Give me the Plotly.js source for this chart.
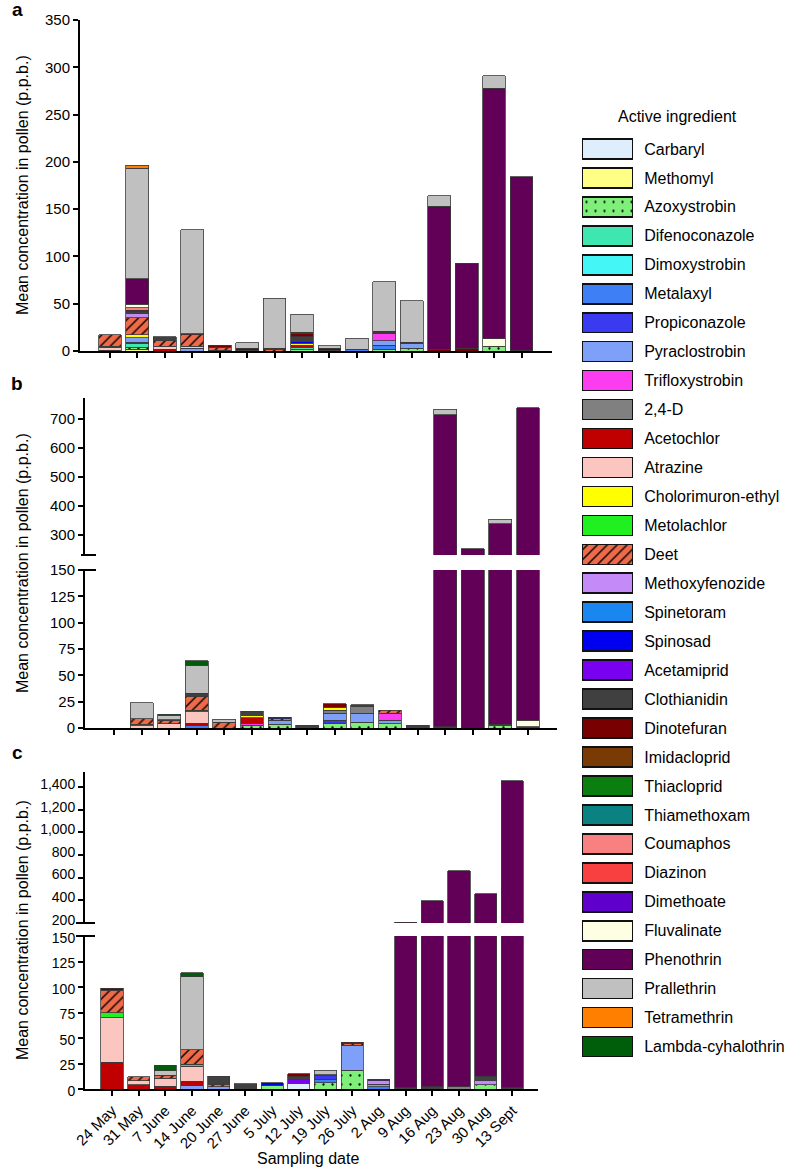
<!DOCTYPE html>
<html lang="en">
<head>
<meta charset="UTF-8">
<title>Active ingredients in pollen</title>
<script src="https://cdn.plot.ly/plotly-3.0.0.min.js" charset="utf-8"></script>
<style>
  body { margin: 0; background: #fff; }
  #chart { width: 788px; height: 1170px; }
</style>
</head>
<body>
<div id="chart"></div>
<script>
// Sampling dates (x categories)
const dates = ['24 May', '31 May', '7 June', '14 June', '20 June', '27 June', '5 July', '12 July',
               '19 July', '26 July', '2 Aug', '9 Aug', '16 Aug', '23 Aug', '30 Aug', '13 Sept'];

// Legend order = stacking order (bottom to top)
const ingredients = ['Carbaryl', 'Methomyl', 'Azoxystrobin', 'Difenoconazole', 'Dimoxystrobin', 'Metalaxyl',
  'Propiconazole', 'Pyraclostrobin', 'Trifloxystrobin', '2,4-D', 'Acetochlor', 'Atrazine',
  'Cholorimuron-ethyl', 'Metolachlor', 'Deet', 'Methoxyfenozide', 'Spinetoram', 'Spinosad',
  'Acetamiprid', 'Clothianidin', 'Dinotefuran', 'Imidacloprid', 'Thiacloprid', 'Thiamethoxam',
  'Coumaphos', 'Diazinon', 'Dimethoate', 'Fluvalinate', 'Phenothrin', 'Prallethrin',
  'Tetramethrin', 'Lambda-cyhalothrin'];

const colors = ['#dfeefc', '#ffff86', '#7ef07a', '#3ee6b0', '#44f6f6', '#3f7ff5',
  '#3a3af0', '#7fa0f8', '#fc3cf0', '#808080', '#c00000', '#fcc6c0',
  '#ffff00', '#20f020', '#ee6a48', '#c48af8', '#1a86f0', '#0000f0',
  '#7a00f0', '#404040', '#780000', '#7a3a06', '#0a7f10', '#0a8282',
  '#f88080', '#f84040', '#6000cc', '#fefee2', '#620058', '#c0c0c0',
  '#ff8000', '#005e0a'];

// Panel a: pollen, values in p.p.b. (one segment per date)
const aMethomyl        = [0, 2, 0, 0, 0, 0, 0, 0, 0, 0, 0, 0, 0, 0, 0, 0];
const aAzoxystrobin    = [0, 2, 0, 0, 0, 0, 0, 2, 0, 0, 2, 3, 0, 0, 5, 0];
const aDifenoconazole  = [0, 4, 0, 0, 0, 0, 0, 2, 0, 0, 0, 0, 0, 0, 0, 0];
const aMetalaxyl       = [0, 1, 0, 0, 1, 0, 0, 0, 0, 2, 4, 0, 0, 0, 0, 0];
const aPyraclostrobin  = [0, 5, 0, 3, 0, 0, 0, 0, 0, 0, 5, 5, 0, 0, 0, 0];
const aTrifloxystrobin = [0, 0, 0, 0, 0, 0, 0, 0, 0, 0, 8, 0, 0, 0, 0, 0];
const aAcetochlor      = [1, 0, 2, 0, 0, 0, 0, 2, 0, 0, 0, 0, 0, 0, 0, 0];
const aAtrazine        = [3, 0, 3, 2, 0, 0, 0, 0, 0, 0, 0, 0, 0, 0, 0, 0];
const aCholorimuron    = [0, 3, 0, 0, 0, 0, 0, 2, 0, 0, 0, 0, 0, 0, 0, 0];
const aMetolachlor     = [1, 0, 0, 0, 0, 0, 0, 0, 0, 0, 0, 0, 0, 0, 0, 0];
const aDeet            = [12, 18, 6, 12, 3, 1, 2, 0, 1, 0, 1, 0, 0, 0, 0, 0];
const aMethoxyfenozide = [0, 5, 0, 0, 0, 0, 0, 0, 0, 0, 0, 0, 0, 0, 0, 0];
const aSpinosad        = [0, 0, 0, 0, 0, 0, 0, 2, 0, 0, 0, 0, 0, 0, 0, 0];
const aClothianidin    = [0, 2, 4, 0, 0, 0, 0, 5, 0, 0, 0, 0, 0, 0, 0, 1];
const aDinotefuran     = [0, 1, 0, 1, 2, 2, 1, 3, 2, 0, 1, 1, 1.5, 3, 0, 0];
const aThiacloprid     = [0, 0, 0, 0, 0, 0, 0, 2, 0, 0, 0, 0, 0, 0, 0, 0];
const aCoumaphos       = [0, 3, 0, 0, 0, 0, 0, 0, 0, 0, 0, 0, 0, 0, 0, 0];
const aFluvalinate     = [0, 3.5, 0, 0, 0, 0, 0, 0, 0, 0, 0, 0, 0, 0, 8, 0];
const aPhenothrin      = [0, 27, 0, 0, 0, 0, 0, 0, 0, 0, 0, 0, 151.5, 90, 265, 183];
const aPrallethrin     = [0, 116.5, 0, 110, 0, 5.5, 53, 19, 2.5, 11.7, 52, 44, 11, 0, 13, 0];
const aTetramethrin    = [0, 3.5, 0, 0, 0, 0, 0, 0, 0, 0, 0, 0, 0, 0, 0, 0];

// Panel b
const bAzoxystrobin    = [0, 0, 0, 0, 0, 2.5, 3.5, 0, 4.7, 5.7, 4, 0, 0, 0, 2.5, 0];
const bMetalaxyl       = [0, 0, 0, 2, 0, 0, 0, 0, 0, 0, 0, 0, 0, 0, 0, 0];
const bPropiconazole   = [0, 0, 0, 0, 0, 0, 0, 0, 2.6, 0, 0, 0, 0, 0, 0, 0];
const bPyraclostrobin  = [0, 0, 0, 0, 0, 0, 3.8, 0, 6.9, 8.5, 3.3, 0, 0, 0, 0, 0];
const bTrifloxystrobin = [0, 0, 0, 0, 0, 2.2, 0, 0, 0, 0, 6.9, 0, 0, 0, 0, 0];
const b24D             = [0, 0, 0, 0, 0, 0, 0, 0, 2.6, 6.4, 0, 0, 0, 0, 0, 0];
const bAcetochlor      = [0, 0, 0, 2.7, 0, 4.8, 0, 0, 0, 0, 0, 0, 0, 0, 0, 0];
const bAtrazine        = [0, 2, 4, 10.5, 0, 0, 0, 0, 0, 0, 0, 0, 0, 0, 0, 0];
const bCholorimuron    = [0, 0, 0, 0, 0, 2.5, 0, 0, 3.1, 0, 0, 0, 0, 0, 0, 0];
const bMetolachlor     = [0, 1.5, 0, 1.6, 0, 0, 0, 0, 0, 0, 0, 0, 0, 0, 0, 0];
const bDeet            = [0, 5.5, 3, 13.2, 5.7, 0, 1.5, 0, 0, 0, 2.6, 0, 0, 0, 0, 0];
const bSpinosad        = [0, 0, 0, 0, 0, 0, 1.2, 0, 0, 0, 0, 0, 0, 0, 0, 0];
const bClothianidin    = [0, 0, 1, 3, 0, 4, 0, 2.5, 0, 1.4, 0, 2.5, 1, 0, 1, 1];
const bDinotefuran     = [0, 0, 0, 0, 0, 0, 0, 0, 3.1, 0, 0, 0, 0, 0, 0, 0];
const bFluvalinate     = [0, 0, 0, 0, 0, 0, 0, 0, 0, 0, 0, 0, 0, 0, 0, 6.5];
const bPhenothrin      = [0, 0, 0, 0, 0, 0, 0, 0, 0, 0, 0, 0, 713, 252, 334.5, 730.5];
const bPrallethrin     = [0, 15, 4, 26.5, 2.5, 0, 0, 0, 0, 0, 0, 0, 20, 0, 17, 0];
const bLambda          = [0, 0, 1, 4.5, 0, 0, 0, 0, 0, 0, 0, 0, 0, 0, 0, 0];

// Panel c
const cCarbaryl        = [0, 0, 0, 0, 0, 0, 0, 5.5, 0, 0, 0, 0, 0, 0, 0, 0];
const cAzoxystrobin    = [0, 0, 0, 0, 0, 0, 3, 0, 6, 18.5, 0, 0, 0, 0, 4, 0];
const cMetalaxyl       = [0, 0, 0, 0, 0, 0, 0, 0, 3.7, 0, 2, 0, 0, 0, 0, 0];
const cPropiconazole   = [0, 0, 0, 0, 0, 0, 0, 0, 3.3, 0, 0, 0, 0, 0, 0, 0];
const cPyraclostrobin  = [0, 0, 0, 3, 2.3, 0, 0, 0, 0, 24.5, 2.5, 0, 0, 0, 0, 0];
const c24D             = [0, 0, 0, 0, 0, 0, 0, 0, 0, 0, 0, 0, 0, 2, 0, 0];
const cAcetochlor      = [26, 4, 2.6, 4.8, 0, 0, 0, 0, 0, 0, 0, 0, 0, 0, 0, 0];
const cAtrazine        = [44, 4, 7.8, 14.6, 0, 0, 0, 0, 0, 0, 0, 0, 0, 0, 0, 0];
const cMetolachlor     = [5, 0, 0, 2, 0, 0, 0, 0, 0, 0, 0, 0, 0, 0, 0, 0];
const cDeet            = [22, 4, 3.2, 14.2, 2.6, 0, 0, 0, 0, 1.5, 0, 0, 0, 0, 0, 0];
const cMethoxyfenozide = [0, 0, 0, 0, 0, 0, 0, 0, 0, 0, 3.5, 0, 0, 0, 4.5, 0];
const cSpinosad        = [0, 0, 0, 0, 0, 0, 3, 0, 0, 0, 0, 0, 0, 0, 0, 0];
const cAcetamiprid     = [0, 0, 0, 0, 0, 0, 0, 4, 0, 0, 0, 0, 0, 0, 0, 0];
const cClothianidin    = [0, 0, 0, 0, 7.8, 5, 0, 2.5, 1, 0, 0, 1, 2, 0, 4, 1];
const cDinotefuran     = [2, 0, 0, 0, 0, 0, 0, 3, 0, 1.5, 0, 0, 0, 0, 0, 0];
const cDimethoate      = [0, 0, 0, 0, 0, 0, 0, 0, 0, 0, 1.7, 0, 0, 0, 0, 0];
const cPhenothrin      = [0, 0, 0, 0, 0, 0, 0, 0, 0, 0, 0, 206, 392, 657, 443.5, 1452];
const cPrallethrin     = [0, 0, 4.3, 71.4, 0, 0, 0, 0, 4.5, 0, 0, 0, 0, 0, 0, 0];
const cLambda          = [0, 0, 5.5, 4, 0, 0, 0, 0, 0, 0, 0, 0, 0, 0, 0, 0];

const panelA = {
  'Methomyl': aMethomyl, 'Azoxystrobin': aAzoxystrobin, 'Difenoconazole': aDifenoconazole,
  'Metalaxyl': aMetalaxyl, 'Pyraclostrobin': aPyraclostrobin, 'Trifloxystrobin': aTrifloxystrobin,
  'Acetochlor': aAcetochlor, 'Atrazine': aAtrazine, 'Cholorimuron-ethyl': aCholorimuron,
  'Metolachlor': aMetolachlor, 'Deet': aDeet, 'Methoxyfenozide': aMethoxyfenozide,
  'Spinosad': aSpinosad, 'Clothianidin': aClothianidin, 'Dinotefuran': aDinotefuran,
  'Thiacloprid': aThiacloprid, 'Coumaphos': aCoumaphos, 'Fluvalinate': aFluvalinate,
  'Phenothrin': aPhenothrin, 'Prallethrin': aPrallethrin, 'Tetramethrin': aTetramethrin
};
const panelB = {
  'Azoxystrobin': bAzoxystrobin, 'Metalaxyl': bMetalaxyl, 'Propiconazole': bPropiconazole,
  'Pyraclostrobin': bPyraclostrobin, 'Trifloxystrobin': bTrifloxystrobin, '2,4-D': b24D,
  'Acetochlor': bAcetochlor, 'Atrazine': bAtrazine, 'Cholorimuron-ethyl': bCholorimuron,
  'Metolachlor': bMetolachlor, 'Deet': bDeet, 'Spinosad': bSpinosad,
  'Clothianidin': bClothianidin, 'Dinotefuran': bDinotefuran, 'Fluvalinate': bFluvalinate,
  'Phenothrin': bPhenothrin, 'Prallethrin': bPrallethrin, 'Lambda-cyhalothrin': bLambda
};
const panelC = {
  'Carbaryl': cCarbaryl, 'Azoxystrobin': cAzoxystrobin, 'Metalaxyl': cMetalaxyl,
  'Propiconazole': cPropiconazole, 'Pyraclostrobin': cPyraclostrobin, '2,4-D': c24D,
  'Acetochlor': cAcetochlor, 'Atrazine': cAtrazine, 'Metolachlor': cMetolachlor,
  'Deet': cDeet, 'Methoxyfenozide': cMethoxyfenozide, 'Spinosad': cSpinosad,
  'Acetamiprid': cAcetamiprid, 'Clothianidin': cClothianidin, 'Dinotefuran': cDinotefuran,
  'Dimethoate': cDimethoate, 'Phenothrin': cPhenothrin, 'Prallethrin': cPrallethrin,
  'Lambda-cyhalothrin': cLambda
};

// Page geometry in pixels -> paper fractions
const W = 788, H = 1170;
const px = v => v / W;
const py = v => 1 - v / H;

function patternFor(name, color) {
  if (name === 'Deet') return {shape: '/', fgcolor: '#000', bgcolor: color, size: 7, solidity: 0.2};
  if (name === 'Azoxystrobin') return {shape: '.', fgcolor: '#000', bgcolor: color, size: 9, solidity: 0.05};
  return {shape: ''};
}

// Each panel: its data and the subplots (a broken axis uses two y axes)
const panels = [
  {data: panelA, subplots: [['x', 'y']]},
  {data: panelB, subplots: [['x2', 'y2'], ['x2', 'y3']]},
  {data: panelC, subplots: [['x3', 'y4'], ['x3', 'y5']]}
];

const traces = [];
panels.forEach(p => {
  ingredients.forEach((name, i) => {
    const vals = p.data[name];
    if (!vals) return;
    p.subplots.forEach(([xa, ya]) => {
      traces.push({
        type: 'bar', name: name, x: dates, y: vals.map(v => v === 0 ? null : v),
        xaxis: xa, yaxis: ya, width: 0.83, showlegend: false, hoverinfo: 'x+y+name',
        marker: {color: colors[i], line: {color: '#3a3a3a', width: 0.8}, pattern: patternFor(name, colors[i])}
      });
    });
  });
});

// Legend drawn as a small horizontal bar subplot, one swatch per ingredient
ingredients.forEach((name, i) => {
  traces.push({
    type: 'bar', orientation: 'h', name: name, x: [1], y: [name], xaxis: 'x4', yaxis: 'y6',
    width: 0.69, showlegend: false, hoverinfo: 'name',
    marker: {color: colors[i], line: {color: '#111', width: 1.6}, pattern: patternFor(name, colors[i])}
  });
});

const tickFont = {family: 'Liberation Sans, Arial, sans-serif', size: 15, color: '#000'};
const axisBase = {
  showline: true, linecolor: '#000', linewidth: 2, ticks: 'outside', ticklen: 5, tickwidth: 2,
  tickcolor: '#000', zeroline: false, showgrid: false, fixedrange: true, tickfont: tickFont
};
const smallTicks = Object.assign({}, tickFont, {size: 14});

const font = {family: 'Liberation Sans, Arial, sans-serif', size: 16, color: '#000'};
const yTitle = 'Mean concentration in pollen (p.p.b.)';

const layout = {
  width: W, height: H,
  margin: {l: 0, r: 0, t: 0, b: 0},
  paper_bgcolor: '#fff', plot_bgcolor: 'rgba(0,0,0,0)',
  barmode: 'stack',
  font: font,
  showlegend: false,

  // panel a
  xaxis: Object.assign({}, axisBase, {domain: [px(80), px(552)], range: [-1.09, 16.11], anchor: 'y', showticklabels: false}),
  yaxis: Object.assign({}, axisBase, {domain: [py(351), py(20)], range: [0, 350], anchor: 'x',
    tickvals: [0, 50, 100, 150, 200, 250, 300, 350]}),

  // panel b
  xaxis2: Object.assign({}, axisBase, {domain: [px(85), px(557)], range: [-1.05, 16.05], anchor: 'y2', showticklabels: false}),
  yaxis2: Object.assign({}, axisBase, {domain: [py(728), py(570)], range: [0, 150], anchor: 'x2',
    tickvals: [0, 25, 50, 75, 100, 125, 150]}),
  yaxis3: Object.assign({}, axisBase, {domain: [py(555), py(398)], range: [231, 772], anchor: 'x2',
    tickvals: [300, 400, 500, 600, 700]}),

  // panel c
  xaxis3: Object.assign({}, axisBase, {domain: [px(85), px(538)], range: [-1.01, 15.96], anchor: 'y4',
    tickangle: -45}),
  yaxis4: Object.assign({}, axisBase, {domain: [py(1089), py(936)], range: [0, 150], anchor: 'x3',
    tickvals: [0, 25, 50, 75, 100, 125, 150], tickfont: smallTicks, ticklabelshift: 2}),
  yaxis5: Object.assign({}, axisBase, {domain: [py(923), py(772)], range: [199, 1532], anchor: 'x3',
    tickvals: [200, 400, 600, 800, 1000, 1200, 1400], tickformat: ',d', tickfont: smallTicks, ticklabelshift: -3}),

  // legend swatches
  xaxis4: {domain: [px(582), px(633)], range: [0, 1], anchor: 'y6', visible: false, fixedrange: true},
  yaxis6: {domain: [py(1061), py(134.5)], type: 'category', categoryorder: 'array', categoryarray: ingredients,
    autorange: 'reversed', anchor: 'x4', side: 'right', showline: false, showgrid: false, zeroline: false,
    ticks: 'outside', ticklen: 7, tickcolor: 'rgba(0,0,0,0)', fixedrange: true,
    tickfont: {family: 'Liberation Sans, Arial, sans-serif', size: 16, color: '#000'}},

  annotations: [
    {text: '<b>a</b>', x: px(17), y: py(10), font: {size: 19}},
    {text: '<b>b</b>', x: px(17), y: py(384), font: {size: 19}},
    {text: '<b>c</b>', x: px(17), y: py(752), font: {size: 19}},
    {text: yTitle, x: px(22), y: py(185), textangle: -90},
    {text: yTitle, x: px(22), y: py(563), textangle: -90},
    {text: yTitle, x: px(22), y: py(930), textangle: -90},
    {text: 'Sampling date', x: px(308), y: py(1158)},
    {text: 'Active ingredient', x: px(677), y: py(117)}
  ].map(a => Object.assign({xref: 'paper', yref: 'paper', showarrow: false, xanchor: 'center', yanchor: 'middle'}, a)),

  // axis break marks
  shapes: [
    [81, 96, 555], [81, 96, 570], [76, 95, 923], [76, 95, 936]
  ].map(([x0, x1, y]) => ({type: 'line', xref: 'paper', yref: 'paper', x0: px(x0), x1: px(x1), y0: py(y), y1: py(y),
    line: {color: '#000', width: 2}}))
};

Plotly.newPlot('chart', traces, layout, {displayModeBar: false, staticPlot: true});
</script>
</body>
</html>
